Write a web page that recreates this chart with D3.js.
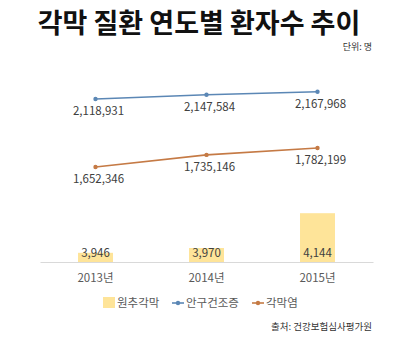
<!DOCTYPE html>
<html><head><meta charset="utf-8">
<script src="https://cdn.jsdelivr.net/npm/d3@7"></script>
<style>html,body{margin:0;padding:0;background:#fff;}svg{display:block;}</style>
</head><body>
<div id="chart"></div>
<script>
const years = ["2013년", "2014년", "2015년"];
const keratoconus = [3946, 3970, 4144];      // 원추각막 (bars)
const dryEye = [2118931, 2147584, 2167968];   // 안구건조증
const keratitis = [1652346, 1735146, 1782199]; // 각막염
const seriesNames = ["원추각막", "안구건조증", "각막염"];
const titleText = "각막 질환 연도별 환자수 추이";
const unitText = "단위: 명";
const sourceText = "출처: 건강보험심사평가원";

const W = 400, H = 338;
const font = "'Noto Sans CJK KR', 'Noto Sans', sans-serif";
const svg = d3.select("#chart").append("svg").attr("width", W).attr("height", H);

const plot = {left: 40, right: 373, top: 58, bottom: 262};
const x = d3.scaleBand().domain(years).range([plot.left, plot.right]).padding(0);
const yBar = d3.scaleLinear().domain([3900, 4920]).range([plot.bottom, plot.top]);
const yLine = d3.scaleLinear().domain([1000000, 2400000]).range([plot.bottom, plot.top]);
const fmt = d3.format(",");
const colors = {bar: "#fee499", blue: "#5b87b5", orange: "#c57a45", text: "#404040"};

// title
svg.append("text").attr("x", 199).attr("y", 33).attr("text-anchor", "middle")
  .attr("font-family", font).attr("font-weight", "bold").attr("font-size", 27)
  .attr("fill", "#111").text(titleText);
svg.append("text").attr("x", 372).attr("y", 50).attr("text-anchor", "end")
  .attr("font-family", font).attr("font-size", 9).attr("fill", "#333").text(unitText);

// bars
const bw = x.bandwidth() * 0.315;
svg.selectAll("rect.bar").data(keratoconus).enter().append("rect")
  .attr("class", "bar")
  .attr("x", (d, i) => x(years[i]) + x.bandwidth() / 2 - bw / 2)
  .attr("width", bw)
  .attr("y", d => yBar(d))
  .attr("height", d => plot.bottom - yBar(d))
  .attr("fill", colors.bar);

// axis
const xAxis = d3.axisBottom(x).tickSize(0).tickPadding(12);
const gx = svg.append("g").attr("transform", `translate(0,${plot.bottom})`).call(xAxis);
gx.select(".domain").attr("stroke", "#d9d9d9").attr("stroke-width", 1);
gx.selectAll("text").attr("font-family", font).attr("font-size", 11.5).attr("fill", "#595959");

// bar labels (inside base)
svg.selectAll("text.barlab").data(keratoconus).enter().append("text")
  .attr("class", "barlab")
  .attr("x", (d, i) => x(years[i]) + x.bandwidth() / 2)
  .attr("y", plot.bottom - 5)
  .attr("text-anchor", "middle").attr("font-family", font).attr("font-size", 11.5)
  .attr("fill", colors.text).text(d => fmt(d));

function drawLine(vals, color) {
  const line = d3.line().x((d, i) => x(years[i]) + x.bandwidth() / 2).y(d => yLine(d));
  svg.append("path").datum(vals).attr("d", line).attr("fill", "none")
    .attr("stroke", color).attr("stroke-width", 1.6);
  svg.selectAll(null).data(vals).enter().append("circle")
    .attr("cx", (d, i) => x(years[i]) + x.bandwidth() / 2).attr("cy", d => yLine(d))
    .attr("r", 2.2).attr("fill", color);
  svg.selectAll(null).data(vals).enter().append("text")
    .attr("x", (d, i) => x(years[i]) + x.bandwidth() / 2 + 3)
    .attr("y", d => yLine(d) + 16)
    .attr("text-anchor", "middle").attr("font-family", font).attr("font-size", 11.5)
    .attr("fill", colors.text).text(d => fmt(d));
}
drawLine(dryEye, colors.blue);
drawLine(keratitis, colors.orange);

// legend
const lg = svg.append("g").attr("font-family", font).attr("font-size", 11.5).attr("fill", "#595959");
const ly = 303;
lg.append("rect").attr("x", 103).attr("y", ly - 6).attr("width", 12).attr("height", 11).attr("fill", colors.bar);
lg.append("text").attr("x", 117).attr("y", ly + 4).text(seriesNames[0]);
[[172, colors.blue, seriesNames[1]], [252, colors.orange, seriesNames[2]]].forEach(([lx, c, t]) => {
  lg.append("line").attr("x1", lx).attr("x2", lx + 12).attr("y1", ly).attr("y2", ly)
    .attr("stroke", c).attr("stroke-width", 1.6);
  lg.append("circle").attr("cx", lx + 6).attr("cy", ly).attr("r", 2.2).attr("fill", c);
  lg.append("text").attr("x", lx + 14).attr("y", ly + 4).text(t);
});

svg.append("text").attr("x", 372).attr("y", 330).attr("text-anchor", "end")
  .attr("font-family", font).attr("font-size", 9.5).attr("fill", "#333").text(sourceText);
</script>
</body></html>
